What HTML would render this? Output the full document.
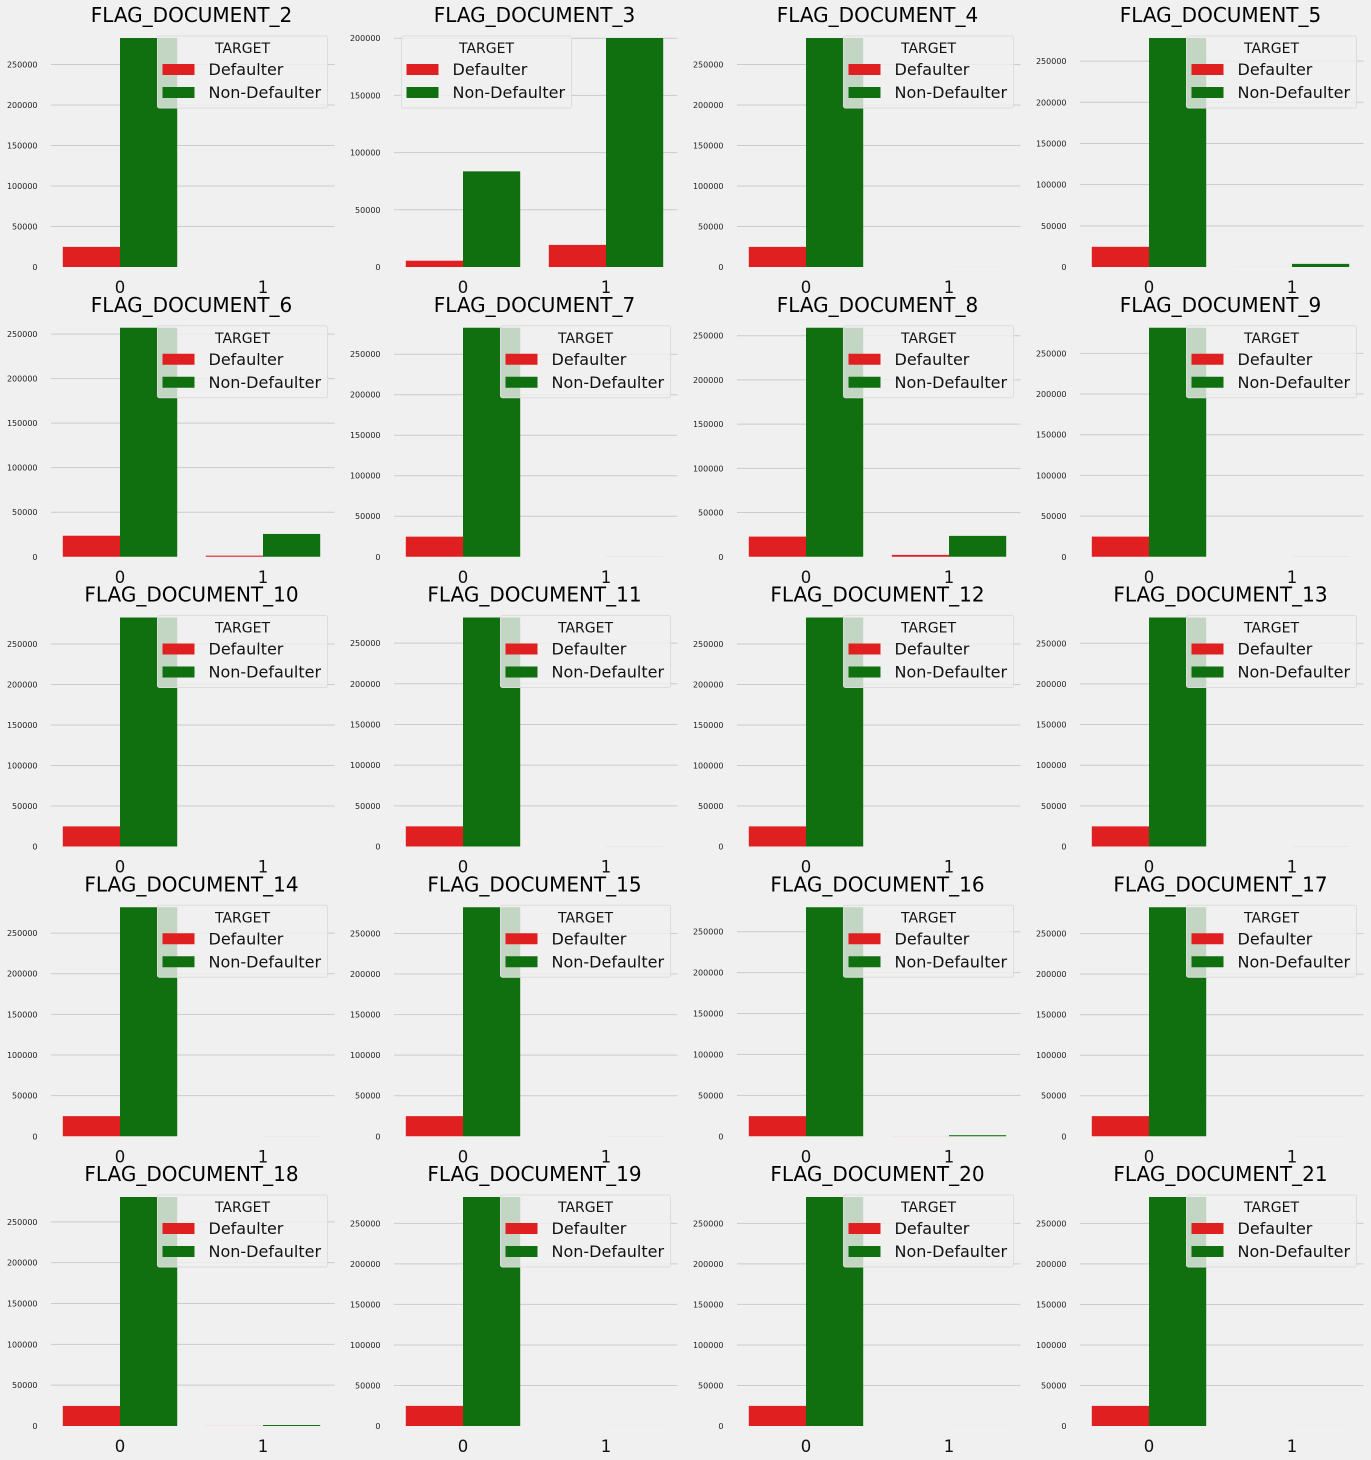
<!DOCTYPE html>
<html><head><meta charset="utf-8"><style>
html,body{margin:0;padding:0;background:#f0f0f0;}
svg{display:block;font-family:"DejaVu Sans","Liberation Sans",sans-serif;}
</style></head><body>
<svg id="chart" width="1371" height="1460" viewBox="0 0 1371 1460"></svg>
<script>
const titles = ["FLAG_DOCUMENT_2","FLAG_DOCUMENT_3","FLAG_DOCUMENT_4","FLAG_DOCUMENT_5","FLAG_DOCUMENT_6","FLAG_DOCUMENT_7","FLAG_DOCUMENT_8","FLAG_DOCUMENT_9","FLAG_DOCUMENT_10","FLAG_DOCUMENT_11","FLAG_DOCUMENT_12","FLAG_DOCUMENT_13","FLAG_DOCUMENT_14","FLAG_DOCUMENT_15","FLAG_DOCUMENT_16","FLAG_DOCUMENT_17","FLAG_DOCUMENT_18","FLAG_DOCUMENT_19","FLAG_DOCUMENT_20","FLAG_DOCUMENT_21"];
const categories = ["0","1"];
const seriesNames = ["Defaulter","Non-Defaulter"];
const defaulter0 = [24825,5500,24825,24500,23600,24800,22800,24750,24825,24750,24825,24750,24750,24800,24570,24820,24560,24820,24810,24810];
const nonDefaulter0 = [282680,83600,282680,278000,257100,282700,259000,281500,282680,281500,282684,281700,281800,282330,279900,282600,280400,282500,282540,282590];
const defaulter1 = [0,19300,0,40,1230,0,2100,5,0,5,0,5,5,3,60,0,80,2,2,1];
const nonDefaulter1 = [13,200200,25,3800,25600,55,23600,60,7,60,2,60,50,40,1300,20,1200,30,30,20];
const legendLoc = ["right","left","right","right","right","right","right","right","right","right","right","right","right","right","right","right","right","right","right","right"];
const yTickStep = 50000;

const NS="http://www.w3.org/2000/svg";
const svg=document.getElementById('chart');
const colors=["#e02020","#107010"];
function mk(tag,attrs,parent){const e=document.createElementNS(NS,tag);for(const k in attrs)e.setAttribute(k,attrs[k]);parent.appendChild(e);return e;}

titles.forEach((t,i)=>{
  const c=i%4, r=Math.floor(i/4);
  const L=48.5+343*c, W=286, top=38+289.75*r, H=229, bottom=top+H;
  const vals=[[defaulter0[i],nonDefaulter0[i]],[defaulter1[i],nonDefaulter1[i]]];
  const ymax=Math.max(defaulter0[i],nonDefaulter0[i],defaulter1[i],nonDefaulter1[i]);
  const y=v=>bottom-v/ymax*H;
  const x=k=>L+W*(k+0.5)/categories.length;
  const bw=W/categories.length*0.4;
  const g=mk('g',{},svg);
  
  
  for(let v=0; v<=ymax; v+=yTickStep){
    if(v>0){
      const ln=mk('line',{x1:L+2.5,x2:L+W,y1:y(v),y2:y(v),stroke:'#cbcbcb','stroke-width':1},g);
      
      
    }
    const tx=mk('text',{x:L-11,y:y(v)+3,'font-size':8,'text-anchor':'end',fill:'#222'},g);
    tx.textContent=String(v);
    
    
  }
  categories.forEach((cat,k)=>{
    vals[k].forEach((v,s)=>{
      const bx=x(k)+(s-1)*bw;
      const b=mk('rect',{x:bx,y:y(v),width:bw,height:bottom-y(v),fill:colors[s]},g);
      
      
    });
    const xt=mk('text',{x:x(k),y:bottom+26,'font-size':16.5,'text-anchor':'middle',fill:'#111'},g);
    xt.textContent=cat;
    
    
  });
  const ti=mk('text',{x:L+W/2,y:top-16,'font-size':20,'text-anchor':'middle',fill:'#000'},g);
  ti.textContent=t;
  
  
  const lx= legendLoc[i]==='left' ? L+10 : L+W-177, ly=top-2;
  const lg=mk('g',{},g);
  
  
  mk('rect',{x:lx,y:ly,width:170,height:72,rx:2,fill:'#f0f0f0','fill-opacity':0.8,stroke:'#dcdcdc'},lg);
  const lt=mk('text',{x:lx+85,y:ly+17,'font-size':14,'text-anchor':'middle',fill:'#111'},lg);
  lt.textContent='TARGET';
  
  
  seriesNames.forEach((n,s)=>{
    const p=mk('rect',{x:lx+5,y:ly+28+23*s,width:32,height:11,fill:colors[s]},lg);
    
    
    const tt=mk('text',{x:lx+51,y:ly+39+23*s,'font-size':16,fill:'#111'},lg);
    tt.textContent=n;
    
    
  });
});
</script>
</body></html>
